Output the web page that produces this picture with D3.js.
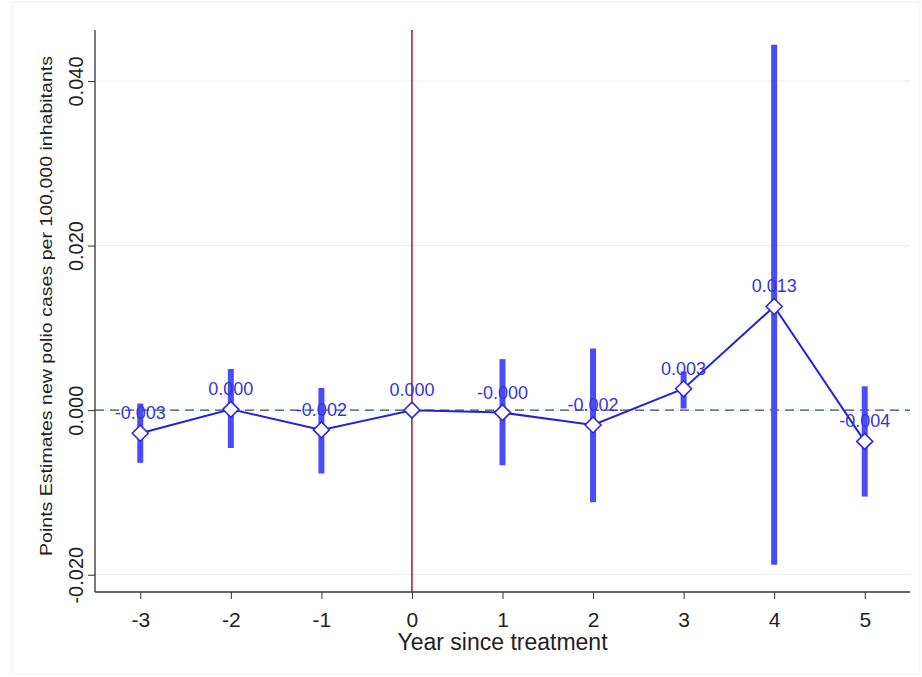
<!DOCTYPE html>
<html>
<head>
<meta charset="utf-8">
<script src="https://cdn.jsdelivr.net/npm/d3@7"></script>
<style>
  html, body { margin: 0; padding: 0; background: #fff; }
  svg { display: block; font-family: "Liberation Sans", Arial, sans-serif; }
</style>
</head>
<body>
<svg id="chart" width="922" height="677"></svg>
<script>
// Event-study estimates by year relative to treatment
const years    = [-3, -2, -1, 0, 1, 2, 3, 4, 5];
const estimate = [-0.0028, 0.0001, -0.0024, 0.0, -0.0003, -0.0018, 0.0026, 0.0126, -0.0038];
const ciLow    = [-0.0064, -0.0046, -0.0077, 0.0, -0.0067, -0.0112, 0.0002, -0.0188, -0.0105];
const ciHigh   = [0.0008, 0.0050, 0.0027, 0.0, 0.0062, 0.0075, 0.0047, 0.0444, 0.0029];
const pointLabels = ["-0.003", "0.000", "-0.002", "0.000", "-0.000", "-0.002", "0.003", "0.013", "-0.004"];
const yTicks = [-0.02, 0.0, 0.02, 0.04];
const xTicks = [-3, -2, -1, 0, 1, 2, 3, 4, 5];

const rows = years.map((yr, i) => ({
  year: yr, est: estimate[i], lo: ciLow[i], hi: ciHigh[i], label: pointLabels[i]
}));

const svg = d3.select("#chart");
const plotL = 95, plotR = 910, plotT = 30, plotB = 592;

const x = d3.scaleLinear().domain([-3.5, 5.5]).range([plotL, plotR]);
const y = d3.scaleLinear().domain([-0.0221, 0.0462]).range([plotB, plotT]);

// plain hyphen-minus in tick labels
const hyphen = f => v => f(v).replace("\u2212", "-");

// faint outer frame
svg.append("rect").attr("x", 12).attr("y", 2).attr("width", 908).attr("height", 672)
  .attr("fill", "none").attr("stroke", "#eef2f6").attr("stroke-width", 1);

// horizontal gridlines
svg.append("g").selectAll("line").data(yTicks).join("line")
  .attr("x1", plotL).attr("x2", plotR)
  .attr("y1", d => y(d)).attr("y2", d => y(d))
  .attr("stroke", "#e8ecef").attr("stroke-width", 1);

// zero reference (dashed)
svg.append("line")
  .attr("x1", plotL).attr("x2", plotR)
  .attr("y1", y(0)).attr("y2", y(0))
  .attr("stroke", "#3d4f60").attr("stroke-width", 1.3)
  .attr("stroke-dasharray", "9,6");

// treatment year marker
svg.append("line")
  .attr("x1", x(0)).attr("x2", x(0))
  .attr("y1", plotT).attr("y2", plotB)
  .attr("stroke", "#b01e45").attr("stroke-width", 1.6);

// confidence interval bars
svg.append("g").selectAll("line").data(rows.filter(d => d.hi !== d.lo)).join("line")
  .attr("x1", d => x(d.year)).attr("x2", d => x(d.year))
  .attr("y1", d => y(d.hi)).attr("y2", d => y(d.lo))
  .attr("stroke", "#4a4cf5").attr("stroke-width", 6);

// connecting line
svg.append("path").datum(rows)
  .attr("d", d3.line().x(d => x(d.year)).y(d => y(d.est)))
  .attr("fill", "none").attr("stroke", "#2323dc").attr("stroke-width", 2);

// diamond markers
const dsz = 8;
svg.append("g").selectAll("path").data(rows).join("path")
  .attr("transform", d => `translate(${x(d.year)},${y(d.est)})`)
  .attr("d", `M0,${-dsz}L${dsz},0L0,${dsz}L${-dsz},0Z`)
  .attr("fill", "#fff").attr("stroke", "#2a2ae0").attr("stroke-width", 1.6);

// value labels
svg.append("g").selectAll("text").data(rows).join("text")
  .attr("x", d => x(d.year)).attr("y", d => y(d.est) - 14)
  .attr("text-anchor", "middle")
  .attr("font-size", 18).attr("fill", "#3535d8")
  .text(d => d.label);

// y axis
const yAxis = svg.append("g").attr("transform", `translate(${plotL},0)`)
  .call(d3.axisLeft(y).tickValues(yTicks).tickFormat(hyphen(d3.format(".3f"))).tickSize(7).tickSizeOuter(0));
yAxis.select(".domain").attr("d", `M0,${plotT}V${plotB}`).attr("stroke", "#333").attr("stroke-width", 1.3);
yAxis.selectAll(".tick line").attr("stroke", "#333");
yAxis.selectAll(".tick text")
  .attr("font-size", 20).attr("fill", "#222")
  .attr("transform", "rotate(-90)")
  .attr("x", 0).attr("y", -12)
  .attr("dy", 0)
  .attr("text-anchor", "middle");

// x axis
const xAxis = svg.append("g").attr("transform", `translate(0,${plotB})`)
  .call(d3.axisBottom(x).tickValues(xTicks).tickFormat(hyphen(d3.format("d"))).tickSize(7).tickSizeOuter(0));
xAxis.select(".domain").attr("d", `M${plotL},0H${plotR}`).attr("stroke", "#333").attr("stroke-width", 1.3);
xAxis.selectAll(".tick text").attr("font-size", 21).attr("fill", "#222")
  .attr("y", 35).attr("dy", 0);
xAxis.selectAll(".tick line").attr("stroke", "#333");

// axis titles
svg.append("text")
  .attr("x", (plotL + plotR) / 2).attr("y", 650)
  .attr("text-anchor", "middle").attr("font-size", 23).attr("fill", "#222")
  .text("Year since treatment");

svg.append("text")
  .attr("transform", `translate(52,${(plotT + plotB) / 2 - 5}) rotate(-90)`)
  .attr("text-anchor", "middle").attr("font-size", 16.5).attr("fill", "#222")
  .attr("textLength", 500).attr("lengthAdjust", "spacingAndGlyphs")
  .text("Points Estimates new polio cases per 100,000 inhabitants");
</script>
</body>
</html>
